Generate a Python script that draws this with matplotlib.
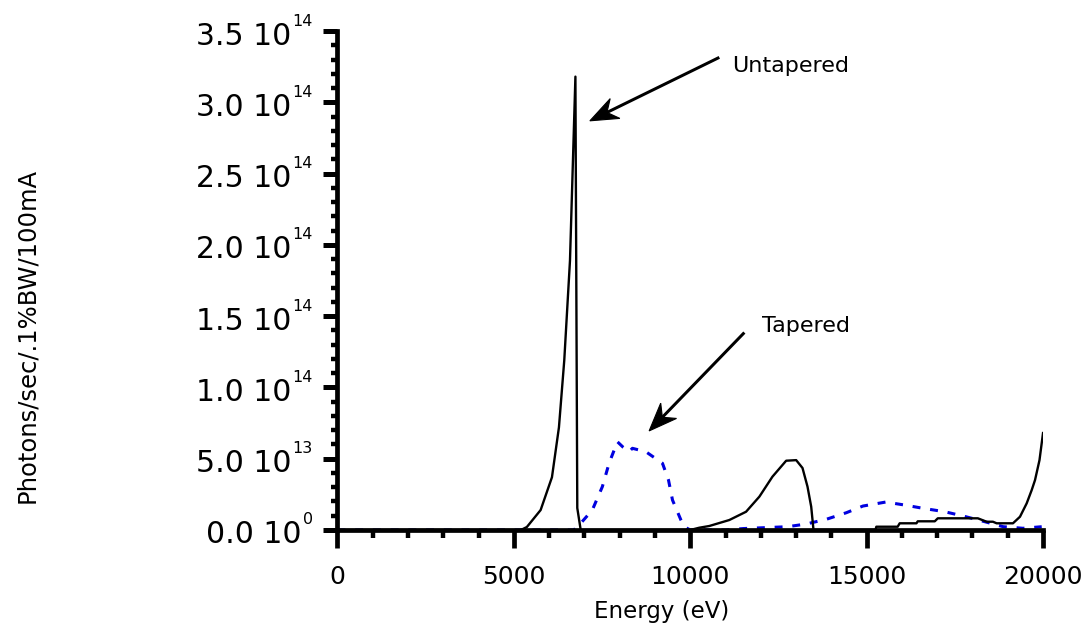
import numpy as np
import matplotlib
matplotlib.use("Agg")
import matplotlib.pyplot as plt
from matplotlib.ticker import MultipleLocator, FixedLocator
from matplotlib.patches import Polygon
from matplotlib.lines import Line2D
from matplotlib.transforms import IdentityTransform

# Spectrum of the untapered undulator (eV, photons/sec/.1%BW/100mA)
energy_untapered = [0, 5200, 5369, 5759, 6080, 6278, 6429, 6591, 6676, 6745, 6798,
                    6895, 10000, 10256, 10540, 11108, 11582, 11960, 12330, 12719,
                    13003, 13182, 13324, 13429, 13494, 15250, 15275, 15880, 15937,
                    16412, 16449, 16932, 17017, 18153, 18400, 18580, 18685, 19148,
                    19347, 19537, 19679, 19773, 19900, 20000]
flux_untapered = [0, 0, 0.21e13, 1.4e13, 3.7e13, 7.2e13, 11.9e13, 18.9e13, 26.0e13,
                  31.8e13, 1.54e13, 0, 0,
                  0.16e13, 0.28e13, 0.7e13, 1.28e13, 2.34e13, 3.74e13, 4.86e13,
                  4.9e13, 4.35e13, 3.04e13, 1.63e13, 0, 0, 0.23e13, 0.23e13, 0.47e13,
                  0.47e13, 0.61e13, 0.61e13, 0.82e13, 0.82e13, 0.58e13, 0.58e13,
                  0.47e13, 0.47e13, 0.93e13, 1.87e13, 2.8e13, 3.5e13, 4.9e13, 6.8e13]

# Spectrum of the tapered undulator
energy_tapered = [0, 6700, 6895, 7224, 7509, 7699, 7935, 8100, 8267, 8361, 8741,
                  9213, 9384, 9497, 9736, 9830, 10000, 11000, 11500, 12756, 13287,
                  13855, 14423, 14895, 15540, 16080, 16600, 17216, 17736, 18352,
                  18872, 19432, 19963]
flux_tapered = [0, 0, 0.47e13, 1.4e13, 3.04e13, 4.68e13, 6.19e13, 5.8e13, 5.49e13,
                5.73e13, 5.49e13, 4.68e13, 3.5e13, 2.1e13, 0.7e13, 0.23e13, 0, 0,
                0.1e13, 0.23e13, 0.42e13, 0.75e13, 1.21e13, 1.68e13, 1.96e13,
                1.75e13, 1.52e13, 1.28e13, 0.98e13, 0.58e13, 0.23e13, 0.12e13,
                0.23e13]

y_ticks = [0, 0.5e14, 1.0e14, 1.5e14, 2.0e14, 2.5e14, 3.0e14, 3.5e14]
y_tick_mantissas = ["0.0", "5.0", "1.0", "1.5", "2.0", "2.5", "3.0", "3.5"]
y_tick_exponents = ["0", "13", "14", "14", "14", "14", "14", "14"]
x_ticks = [0, 5000, 10000, 15000, 20000]

plt.rcParams["font.family"] = ["DejaVu Sans"]

fig = plt.figure(figsize=(10.9, 6.29), dpi=100)
ax = fig.add_axes([0.3096, 0.1574, 0.6473, 0.7933])

ax.plot(energy_tapered, flux_tapered, color="#0000e0", lw=2.2,
        linestyle=(0, (2.6, 3.2)), zorder=2)
ax.plot(energy_untapered, flux_untapered, color="black", lw=1.7, zorder=3)

ax.set_xlim(0, 20000)
ax.set_ylim(0, 3.5e14)

for s in ("top", "right"):
    ax.spines[s].set_visible(False)
for s in ("left", "bottom"):
    ax.spines[s].set_linewidth(3.4)

ax.xaxis.set_major_locator(FixedLocator(x_ticks))
ax.xaxis.set_minor_locator(MultipleLocator(1000))
ax.set_xticklabels([str(v) for v in x_ticks])
ax.set_yticks(y_ticks)
ax.set_yticklabels([])
ax.yaxis.set_minor_locator(MultipleLocator(1e13))

ax.tick_params(axis="x", which="major", length=13, width=3.4, direction="out",
               labelsize=18, pad=12.3)
ax.tick_params(axis="x", which="minor", length=6, width=3.2, direction="out")
ax.tick_params(axis="y", which="major", length=10, width=3.6, direction="out")
ax.tick_params(axis="y", which="minor", length=4.5, width=3.2, direction="out")

# y tick labels: mantissa followed by a small raised exponent, right aligned
renderer = fig.canvas.get_renderer()
spine_px = ax.transData.transform((0, 0))[0]
for val, man, exp in zip(y_ticks, y_tick_mantissas, y_tick_exponents):
    ty = ax.transData.transform((0, val))[1]
    sup = fig.text(spine_px - 24.5, ty + 5.5, exp, fontsize=11.5, ha="right",
                   va="baseline", transform=IdentityTransform())
    x0 = sup.get_window_extent(renderer=renderer).x0
    fig.text(x0 - 1.5, ty - 13.5, man + " 10", fontsize=21.5, ha="right",
             va="baseline", transform=IdentityTransform())

fig.text(661.5 / 1090, 11 / 629, "Energy (eV)", fontsize=16.5, ha="center",
         va="baseline")
fig.text(27 / 1090, 1 - 335 / 629, "Photons/sec/.1%BW/100mA", rotation=90,
         fontsize=17.5, ha="center", va="center")


def notched_arrow(tip, tail, length=28, half_width=11, notch=9, lw=3.0):
    """Straight arrow with a barbed head, sized in pixels."""
    p_tip = ax.transData.transform(tip)
    p_tail = ax.transData.transform(tail)
    d = p_tail - p_tip
    d = d / np.hypot(*d)
    n = np.array([-d[1], d[0]])
    base = p_tip + d * length
    inner = p_tip + d * (length - notch)
    head = Polygon([p_tip, base + n * half_width, inner, base - n * half_width],
                   closed=True, facecolor="black", edgecolor="black", lw=0.8,
                   transform=IdentityTransform(), clip_on=False, zorder=5)
    shaft = Line2D([p_tail[0], inner[0]], [p_tail[1], inner[1]], color="black",
                   lw=lw * 72 / 100, transform=IdentityTransform(),
                   clip_on=False, zorder=5, solid_capstyle="butt")
    fig.add_artist(shaft)
    fig.add_artist(head)


notched_arrow((7155, 2.87e14), (10824, 3.315e14))
ax.text(11193, 3.212e14, "Untapered", fontsize=16, va="baseline", ha="left")
notched_arrow((8835, 0.695e14), (11534, 1.385e14))
ax.text(12045, 1.391e14, "Tapered", fontsize=16, va="baseline", ha="left")

fig.savefig("out.png", dpi=100)
